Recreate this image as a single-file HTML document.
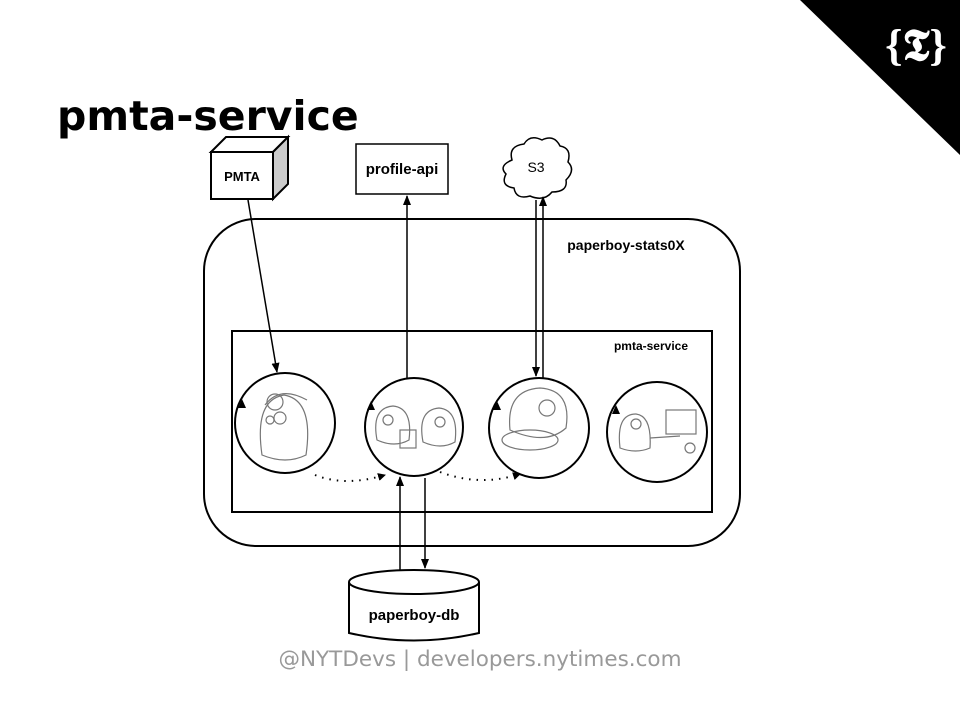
<!DOCTYPE html>
<html><head><meta charset="utf-8"><style>
html,body{margin:0;padding:0;background:#fff;}
body{width:960px;height:720px;overflow:hidden;position:relative;font-family:"Liberation Sans",sans-serif;}
</style></head><body>
<svg width="960" height="720" viewBox="0 0 960 720" xmlns="http://www.w3.org/2000/svg" style="position:absolute;left:0;top:0">
<defs>
<marker id="a" markerWidth="10" markerHeight="10" refX="9" refY="5" orient="auto" markerUnits="userSpaceOnUse"><path d="M0,1 L10,5 L0,9 z" fill="#000"/></marker>
<marker id="s" markerWidth="8" markerHeight="8" refX="7" refY="4" orient="auto" markerUnits="userSpaceOnUse"><path d="M0,0 L8,4 L0,8 z" fill="#000"/></marker>
</defs>
<polygon points="800,0 960,0 960,155" fill="#000"/>
<text x="916" y="60" font-family="Liberation Serif,serif" font-size="44" font-weight="bold" fill="#fff" text-anchor="middle">{𝕿}</text>
<text x="57" y="130" font-family="DejaVu Sans,sans-serif" font-size="41" font-weight="bold" fill="#000">pmta-service</text>

<polygon points="211,152 226,137 288,137 273,152" fill="#fff" stroke="#000" stroke-width="2"/>
<polygon points="273,152 288,137 288,184 273,199" fill="#ccc" stroke="#000" stroke-width="2"/>
<rect x="211" y="152" width="62" height="47" fill="#fff" stroke="#000" stroke-width="2"/>
<text x="242" y="181" font-size="13" font-weight="bold" text-anchor="middle">PMTA</text>

<rect x="356" y="144" width="92" height="50" fill="#fff" stroke="#000" stroke-width="1.5"/>
<text x="402" y="174" font-size="15" font-weight="bold" text-anchor="middle">profile-api</text>

<path d="M512,160 q-4,-14 12,-16 q6,-10 18,-4 q12,-6 18,6 q12,2 8,16 q8,8 -2,18 q2,12 -14,12 q-8,10 -22,4 q-14,4 -16,-8 q-14,-2 -8,-14 q-8,-8 6,-14z" fill="#fff" stroke="#000" stroke-width="1.5"/>
<text x="536" y="172" font-size="14" text-anchor="middle">S3</text>

<rect x="204" y="219" width="536" height="327" rx="52" fill="none" stroke="#000" stroke-width="2"/>
<text x="626" y="250" font-size="14" font-weight="bold" text-anchor="middle">paperboy-stats0X</text>
<rect x="232" y="331" width="480" height="181" fill="none" stroke="#000" stroke-width="2"/>
<text x="651" y="350" font-size="12" font-weight="bold" text-anchor="middle">pmta-service</text>

<g fill="none" stroke="#000" stroke-width="2">
<circle cx="285" cy="423" r="50"/>
<circle cx="414" cy="427" r="49"/>
<circle cx="539" cy="428" r="50"/>
<circle cx="657" cy="432" r="50"/>
</g>
<g fill="none" stroke="#777" stroke-width="1.2">
<path d="M262,455 q-8,-55 22,-60 q30,5 22,60 q-20,10 -44,0z"/><circle cx="280" cy="418" r="6"/><circle cx="270" cy="420" r="4"/><path d="M265,405 q15,-20 42,-5"/><circle cx="275" cy="402" r="8"/>
<path d="M377,440 q-6,-32 16,-34 q20,2 16,34 q-14,8 -32,0z"/><circle cx="388" cy="420" r="5"/>
<path d="M423,442 q-6,-32 16,-34 q20,2 16,34 q-14,8 -32,0z"/><circle cx="440" cy="422" r="5"/><rect x="400" y="430" width="16" height="18"/>
<path d="M510,430 q-4,-40 30,-42 q32,2 26,40 q-20,18 -56,2z"/><circle cx="547" cy="408" r="8"/><ellipse cx="530" cy="440" rx="28" ry="10"/>
<path d="M620,448 q-4,-34 16,-34 q16,2 14,34 q-14,6 -30,0z"/><circle cx="636" cy="424" r="5"/><rect x="666" y="410" width="30" height="24"/><circle cx="690" cy="448" r="5"/><path d="M650,438 l30,-2"/>
</g>
<g fill="#000">
<path d="M238,408 l4,-9 l4,9z"/><path d="M367,410 l4,-9 l4,9z"/><path d="M493,410 l4,-9 l4,9z"/><path d="M612,414 l4,-9 l4,9z"/>
</g>
<g fill="none" stroke="#000" stroke-width="2" stroke-dasharray="1.5,6">
<path d="M315,475 q30,12 70,0" marker-end="url(#s)"/>
<path d="M440,472 q40,15 80,2" marker-end="url(#s)"/>
</g>
<g stroke="#000" stroke-width="1.5" fill="none">
<line x1="248" y1="200" x2="277" y2="372" marker-end="url(#a)"/>
<line x1="407" y1="378" x2="407" y2="196" marker-end="url(#a)"/>
<line x1="536" y1="200" x2="536" y2="376" marker-end="url(#a)"/>
<line x1="543" y1="378" x2="543" y2="197" marker-end="url(#a)"/>
<line x1="400" y1="570" x2="400" y2="477" marker-end="url(#a)"/>
<line x1="425" y1="478" x2="425" y2="568" marker-end="url(#a)"/>
</g>
<path d="M349,582 L349,633 Q414,648 479,633 L479,582" fill="#fff" stroke="#000" stroke-width="2"/>
<ellipse cx="414" cy="582" rx="65" ry="12" fill="#fff" stroke="#000" stroke-width="2"/>
<text x="414" y="620" font-size="15" font-weight="bold" text-anchor="middle">paperboy-db</text>

<text x="480" y="666" font-family="DejaVu Sans,sans-serif" font-size="21.5" fill="#999" text-anchor="middle">@NYTDevs | developers.nytimes.com</text>
</svg>
</body></html>
